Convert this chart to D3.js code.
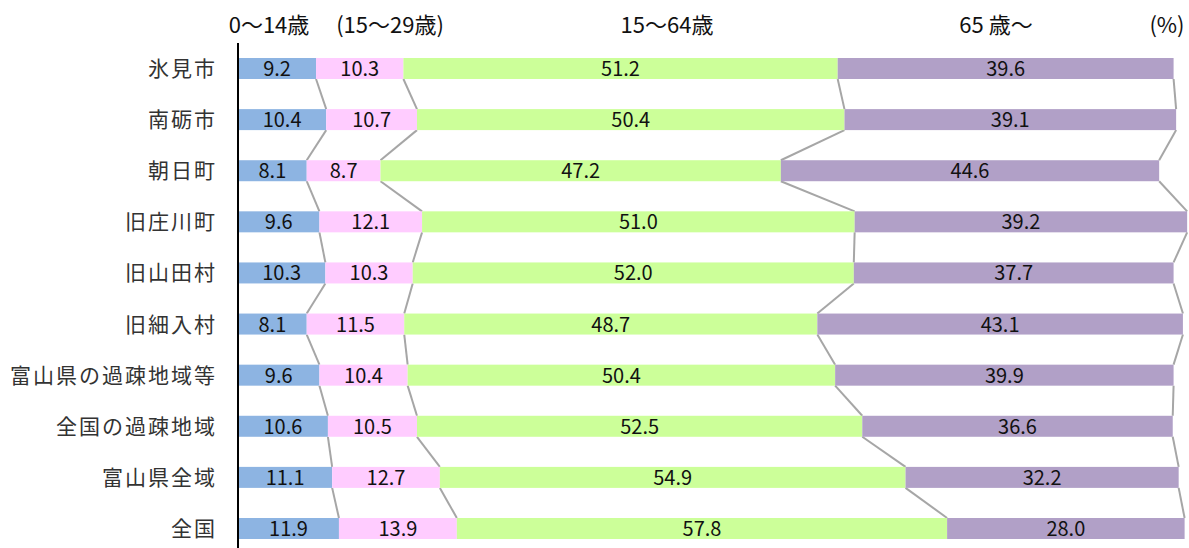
<!DOCTYPE html>
<html>
<head>
<meta charset="utf-8">
<script src="https://cdn.jsdelivr.net/npm/d3@7"></script>
<style>
  html, body { margin: 0; padding: 0; background: #fff; }
  svg { display: block; }
</style>
</head>
<body>
<div id="chart"></div>
<script>
// 地域
const CATS = ["氷見市", "南砺市", "朝日町", "旧庄川町", "旧山田村", "旧細入村",
  "富山県の過疎地域等", "全国の過疎地域", "富山県全域", "全国"];
// 年齢区分別の割合（%）
const AGE_0_14 = [9.2, 10.4, 8.1, 9.6, 10.3, 8.1, 9.6, 10.6, 11.1, 11.9];
const AGE_15_29 = [10.3, 10.7, 8.7, 12.1, 10.3, 11.5, 10.4, 10.5, 12.7, 13.9];
const AGE_15_64 = [51.2, 50.4, 47.2, 51.0, 52.0, 48.7, 50.4, 52.5, 54.9, 57.8];
const AGE_65 = [39.6, 39.1, 44.6, 39.2, 37.7, 43.1, 39.9, 36.6, 32.2, 28.0];
// 見出し
const KEYS = ["a", "b", "c", "d"];
const HEADS = ["0～14歳", "(15～29歳)", "15～64歳", "65 歳～", "(%)"];
const COLORS = ["#8DB4E2", "#FFCCFF", "#CCFF99", "#B1A0C7"];

const W = 1189, H = 548;
const rows = CATS.map((c, i) => ({ cat: c, a: AGE_0_14[i], b: AGE_15_29[i], c: AGE_15_64[i], d: AGE_65[i] }));

const svg = d3.select("#chart").append("svg").attr("width", W).attr("height", H);
const FONT = "'Noto Sans CJK JP', 'Noto Sans', sans-serif";

const x = d3.scaleLinear().domain([0, 112]).range([238, 1188]);
const y = d3.scalePoint().domain(CATS).range([68.5, 528.5]);
const bh = 21;

const stacked = d3.stack().keys(KEYS)(rows);

// 区分線（系列線）
const bounds = KEYS.map((k, j) => rows.map((r, i) => stacked[j][i][1]));
bounds.forEach(b => {
  for (let i = 0; i < rows.length - 1; i++) {
    svg.append("line")
      .attr("x1", x(b[i])).attr("y1", y(CATS[i]) + bh / 2)
      .attr("x2", x(b[i + 1])).attr("y2", y(CATS[i + 1]) - bh / 2)
      .attr("stroke", "#A6A6A6").attr("stroke-width", 2);
  }
});

// 棒
stacked.forEach((s, j) => {
  svg.append("g").selectAll("rect").data(s).join("rect")
    .attr("x", d => x(d[0])).attr("y", d => y(d.data.cat) - bh / 2)
    .attr("width", d => x(d[1]) - x(d[0])).attr("height", bh)
    .attr("fill", COLORS[j]);
  svg.append("g").selectAll("text").data(s).join("text")
    .attr("x", d => (x(d[0]) + x(d[1])) / 2).attr("y", d => y(d.data.cat) + 7.5)
    .attr("text-anchor", "middle").attr("font-family", FONT).attr("font-size", 20)
    .attr("fill", "#111").text(d => d3.format(".1f")(d[1] - d[0]));
});

// 軸線
svg.append("line").attr("x1", 238).attr("x2", 238).attr("y1", 43).attr("y2", H)
  .attr("stroke", "#000").attr("stroke-width", 2);

// カテゴリ名
svg.append("g").selectAll("text").data(CATS).join("text")
  .attr("x", 217).attr("y", d => y(d) + 7.5)
  .attr("text-anchor", "end").attr("font-family", FONT).attr("font-size", 21)
  .attr("letter-spacing", 2).attr("fill", "#333").text(d => d);

// 見出し
const HX = [269, 390, 667, 996, 1167];
svg.append("g").selectAll("text").data(HEADS).join("text")
  .attr("x", (d, i) => HX[i]).attr("y", 33)
  .attr("text-anchor", "middle").attr("font-family", FONT).attr("font-size", 22)
  .attr("fill", "#111").text(d => d);
</script>
</body>
</html>
